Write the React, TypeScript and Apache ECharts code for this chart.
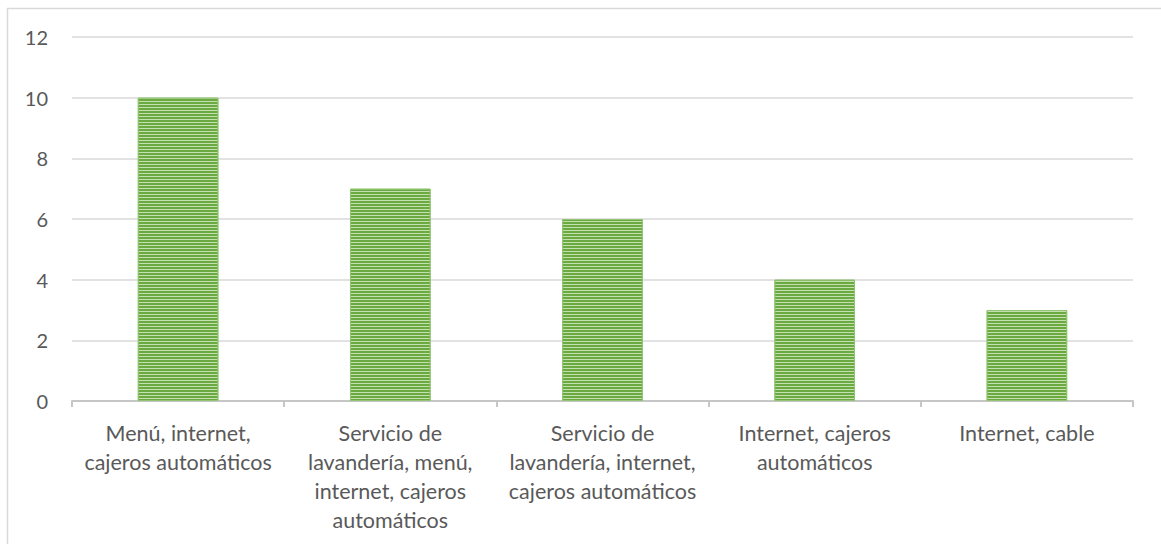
import React, { useEffect, useRef } from "react";
import * as echarts from "echarts";

const categories = [
  "Menú, internet,\ncajeros automáticos",
  "Servicio de\nlavandería, menú,\ninternet, cajeros\nautomáticos",
  "Servicio de\nlavandería, internet,\ncajeros automáticos",
  "Internet, cajeros\nautomáticos",
  "Internet, cable",
];
const values = [10, 7, 6, 4, 3];
const yTicks = { min: 0, max: 12, interval: 2 };

export default function App() {
  const ref = useRef<HTMLDivElement>(null);
  useEffect(() => {
    document.body.style.margin = "0";
    const chart = echarts.init(ref.current!, null, { renderer: "svg" });
    chart.setOption({
      animation: false,
      backgroundColor: "#ffffff",
      textStyle: { fontFamily: "Lato" },
      graphic: [
        {
          type: "rect",
          shape: { x: 7.5, y: 8.5, width: 1300, height: 700 },
          style: { fill: "none", stroke: "#D9D9D9", lineWidth: 1.5 },
          silent: true,
        },
      ],
      grid: { left: 72, right: 28, top: 37, bottom: 143, containLabel: false },
      xAxis: {
        type: "category",
        data: categories,
        axisLine: { show: true, lineStyle: { color: "#C6C6C6", width: 2 } },
        axisTick: { show: true, length: 6, lineStyle: { color: "#C6C6C6", width: 2 } },
        axisLabel: {
          color: "#595959",
          fontSize: 21.5,
          lineHeight: 29,
          margin: 17,
          interval: 0,
          align: "center",
          fontFamily: "Lato",
        },
      },
      yAxis: {
        type: "value",
        min: yTicks.min,
        max: yTicks.max,
        interval: yTicks.interval,
        axisLine: { show: false },
        axisTick: { show: false },
        splitLine: { lineStyle: { color: "#D9D9D9", width: 1.5 } },
        axisLabel: { color: "#595959", fontSize: 20, margin: 24, fontFamily: "Lato" },
      },
      series: [
        {
          type: "bar",
          data: values,
          barWidth: "38%",
          itemStyle: {
            color: "#C4E0B0",
            borderColor: "#92C572",
            borderWidth: 1,
            decal: {
              symbol: "rect",
              symbolSize: 1,
              dashArrayX: [1, 0],
              dashArrayY: [2, 1],
              color: "#6AAA40",
            },
          },
        },
      ],
    });
    return () => chart.dispose();
  }, []);
  return <div ref={ref} style={{ width: 1161, height: 544 }} />;
}
